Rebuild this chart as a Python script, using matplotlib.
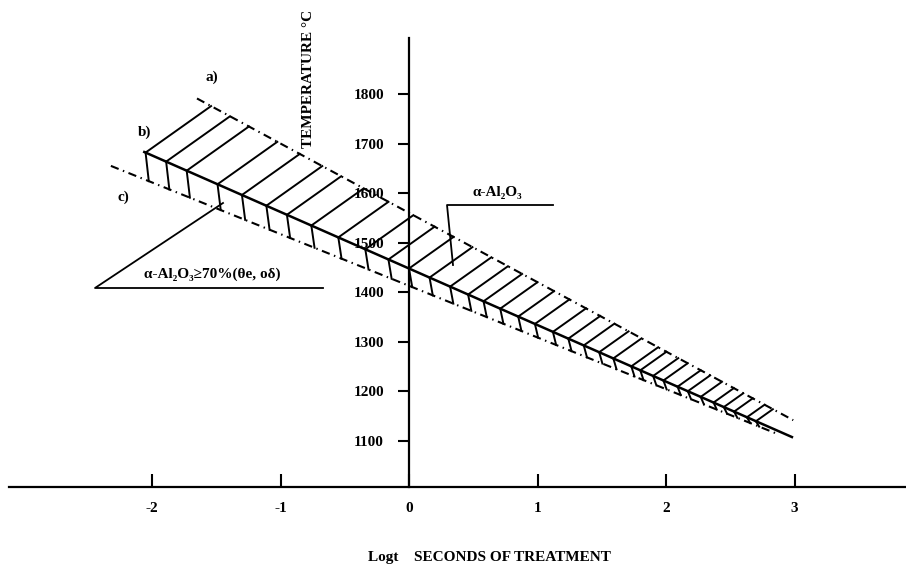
import numpy as np
import matplotlib
matplotlib.use("Agg")
import matplotlib.pyplot as plt

plt.rcParams['font.family'] = ['Liberation Serif', 'DejaVu Serif']
plt.rcParams['font.weight'] = 'bold'

# boundary lines (log t, temperature)
a_logt = [-1.65, 2.99]
a_temp = [1791, 1142]
b_logt = [-2.06, 2.98]
b_temp = [1683, 1108]
c_logt = [-2.32, 2.85]
c_temp = [1655, 1116]

# hatch feet on line b
hatch_logt = [-2.05, -1.89, -1.73, -1.49, -1.30, -1.11, -0.95, -0.76, -0.55,
              -0.34, -0.16, 0.0, 0.16, 0.32, 0.46, 0.58, 0.71, 0.85, 0.98,
              1.12, 1.24, 1.36, 1.48, 1.59, 1.73, 1.80, 1.90, 1.98, 2.09,
              2.17, 2.27, 2.37, 2.45, 2.53, 2.63, 2.70]
hatch_slope = 184  # degC per decade, direction of the hatch strokes

xticks = [-2, -1, 0, 1, 2, 3]
yticks = [1100, 1200, 1300, 1400, 1500, 1600, 1700, 1800]

# pixel -> data helpers (906x565 canvas)
X0, XS = 409, 128.5
Y0, YS = 441, 0.4957


def px(x):
    return (x - X0) / XS


def py(y):
    return 1100 + (Y0 - y) / YS


fig = plt.figure(figsize=(9.06, 5.65), dpi=100)
ax = fig.add_axes([0, 0, 1, 1])
ax.set_xlim(px(0), px(906))
ax.set_ylim(py(565), py(0))

t_axis = py(487)
ax.spines['top'].set_visible(False)
ax.spines['right'].set_visible(False)
ax.spines['left'].set_position(('data', 0))
ax.spines['bottom'].set_position(('data', t_axis))
ax.spines['left'].set_bounds(t_axis, py(38))
ax.spines['bottom'].set_bounds(px(9), px(906))
for s in ('left', 'bottom'):
    ax.spines[s].set_linewidth(1.6)

ax.set_xticks(xticks)
ax.set_xticklabels([str(v) for v in xticks])
ax.set_yticks(yticks)
ax.tick_params(axis='x', direction='in', length=9.5, width=1.5, pad=11, labelsize=11)
ax.tick_params(axis='y', direction='out', length=8, width=1.5, pad=10, labelsize=11)

dashdot = (0, (4, 2.2, 0.7, 2.2))
ax.plot(a_logt, a_temp, color='black', lw=1.5, linestyle=dashdot)
ax.plot(b_logt, b_temp, color='black', lw=1.8)
ax.plot(c_logt, c_temp, color='black', lw=1.5, linestyle=dashdot)

ka, ma = np.polyfit(a_logt, a_temp, 1)
kb, mb = np.polyfit(b_logt, b_temp, 1)
kc, mc = np.polyfit(c_logt, c_temp, 1)
for x0 in hatch_logt:
    t0 = kb * x0 + mb
    # stroke up-right until it meets line a
    x1 = (ma - t0 + hatch_slope * x0) / (hatch_slope - ka)
    ax.plot([x0, x1], [t0, ka * x1 + ma], color='black', lw=1.4)
    # short tick down to line c
    x2 = x0 + 0.025
    ax.plot([x0, x2], [t0, kc * x2 + mc], color='black', lw=1.4)

# annotations
ax.text(px(212), py(77), 'a)', ha='center', va='center', fontsize=11)
ax.text(px(145), py(132), 'b)', ha='center', va='center', fontsize=11)
ax.text(px(123), py(197), 'c)', ha='center', va='center', fontsize=11)

ax.text(px(497), py(192), 'α-Al₂O₃', ha='center', va='center', fontsize=11)
ax.plot([px(553), px(447), px(453)], [py(205), py(205), py(265)], color='black', lw=1.3)

ax.text(px(212), py(274), 'α-Al₂O₃≥70%(θe, oδ)', ha='center', va='center', fontsize=11)
ax.plot([px(323), px(95), px(223)], [py(288), py(288), py(203)], color='black', lw=1.3)

ax.text(px(308), py(79), 'TEMPERATURE °C', rotation=90, ha='center', va='center', fontsize=11)
ax.text(px(489), py(557), 'Logt    SECONDS OF TREATMENT', ha='center', va='center', fontsize=11)

fig.savefig('out.png', dpi=100)
